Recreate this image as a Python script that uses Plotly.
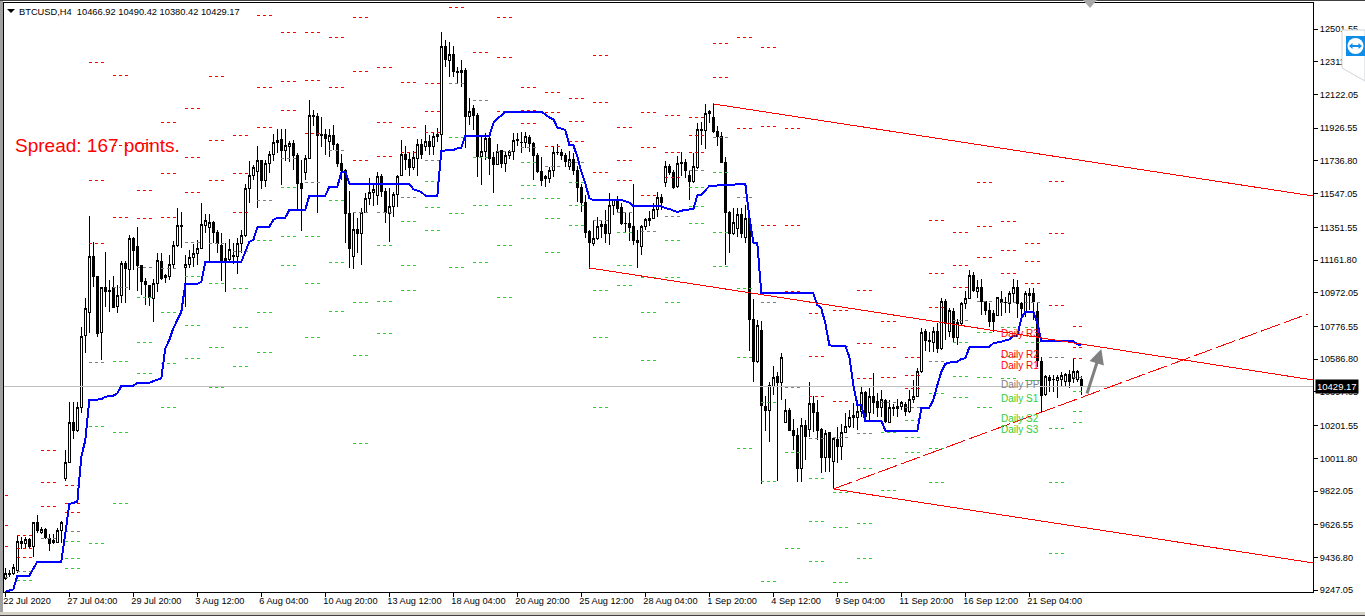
import plotly.graph_objects as go

FW, FH = 1365, 616
L, R, T, B = 4, 1313, 3, 592

opens = [9316,9339,9345,9360,9532,9517,9542,9499,9640,9584,
 9600,9546,9523,9526,9594,9896,9988,10220,10176,10307,
 10725,10858,11183,11067,10741,11003,10988,11003,10891,10955,
 11143,11108,11288,11239,11129,11040,11017,10940,11027,11154,
 11061,11069,11135,11245,11365,11118,11135,11177,11201,11230,
 11365,11351,11382,11322,11249,11172,11166,11189,11181,11259,
 11305,11578,11653,11674,11740,11624,11723,11775,11844,11862,
 11796,11821,11839,11769,11607,11670,11750,12001,11995,11891,
 11891,11848,11885,11833,11723,11680,11433,11181,11340,11317,
 11437,11518,11554,11537,11647,11560,11433,11471,11543,11651,
 11775,11746,11698,11752,11833,11823,11852,11819,11877,11891,
 12401,12320,12355,12256,12250,12264,11993,12042,12001,11761,
 11792,11868,11754,11717,11800,11723,11769,11792,11862,11846,
 11844,11875,11835,11771,11674,11647,11634,11684,11788,11788,
 11771,11707,11746,11684,11583,11498,11328,11257,11288,11355,
 11369,11315,11479,11510,11469,11375,11375,11359,11278,11239,
 11357,11404,11402,11456,11527,11611,11705,11670,11587,11730,
 11730,11655,11616,11699,11920,11912,12011,11989,11908,11879,
 11728,11438,11315,11342,11427,11293,11404,10818,10572,10756,
 10315,10292,10431,10485,10451,10219,10292,10176,10147,9952,
 10205,10180,10331,10280,10180,10016,10159,9992,10122,10079,
 10161,10195,10249,10248,10286,10396,10278,10373,10344,10306,
 10350,10222,10307,10300,10313,10325,10282,10352,10369,10514,
 10746,10698,10683,10746,10646,10920,10746,10862,10713,10791,
 10911,10938,11073,10982,11003,10920,10868,10853,10843,10934,
 10916,10911,10965,11000,10907,10857,10969,10969,10862,10572,
 10383,10480,10471,10466,10470,10460,10499,10476,10470,10466.92]

highs = [9374,9364,9399,9567,9557,9553,9548,9640,9683,9615,
 9606,9571,9571,9606,9650,10060,10336,10336,10340,10775,
 10940,11417,11268,11067,11003,11210,11046,11069,11017,11158,
 11156,11307,11297,11355,11133,11056,11017,11050,11201,11201,
 11081,11191,11274,11462,11442,11191,11220,11255,11278,11491,
 11429,11429,11390,11336,11317,11259,11282,11259,11288,11336,
 11603,11736,11713,11823,11742,11742,11796,11893,11920,11920,
 11922,11854,11858,11781,11742,11771,12090,12032,12013,11989,
 11920,11920,11943,11839,11775,11688,11562,11433,11404,11462,
 11549,11636,11607,11674,11661,11578,11582,11558,11655,11858,
 11823,11781,11794,11866,11866,11945,11887,11901,11926,12482,
 12438,12426,12403,12283,12322,12278,12100,12061,12013,11887,
 11897,11887,11790,11833,11800,11790,11800,11897,11901,11906,
 11902,11887,11848,11781,11761,11653,11699,11819,11835,11804,
 11781,11794,11781,11707,11603,11537,11336,11394,11409,11394,
 11452,11549,11514,11533,11495,11437,11442,11601,11336,11365,
 11404,11448,11491,11558,11545,11738,11719,11684,11765,11790,
 11746,11684,11781,11955,11964,12067,12032,12067,11939,11906,
 11757,11448,11462,11462,11462,11481,11413,10934,10814,10808,
 10373,10456,10547,10514,10621,10354,10302,10238,10186,10244,
 10234,10452,10373,10350,10186,10176,10166,10137,10195,10209,
 10276,10292,10331,10350,10431,10404,10418,10505,10393,10408,
 10354,10350,10327,10354,10346,10340,10408,10466,10534,10766,
 10760,10746,10775,10795,10940,10934,10882,10886,10818,10920,
 10984,11104,11094,11046,11050,10926,10911,10872,10945,10984,
 10945,10984,11050,11046,10920,10984,10998,10998,10920,10601,
 10495,10495,10495,10495,10514,10505,10524,10586,10524,10490.42]

lows = [9306,9325,9335,9349,9484,9484,9490,9441,9577,9571,
 9542,9476,9515,9519,9519,9882,9983,10124,10162,10273,
 10621,10737,11007,10717,10582,10887,10862,10882,10857,10911,
 10911,10988,11104,10984,10959,10901,10895,10804,10978,11046,
 11031,11046,11114,11239,11230,10891,11114,11123,11133,11224,
 11317,11152,11259,11201,11040,10978,11152,11137,11081,11201,
 11297,11495,11626,11464,11576,11587,11665,11738,11785,11599,
 11738,11732,11684,11456,11332,11626,11746,11939,11437,11819,
 11771,11761,11800,11703,11626,11263,11118,11112,11201,11135,
 11433,11479,11475,11481,11529,11375,11268,11413,11467,11649,
 11684,11649,11684,11651,11750,11796,11773,11773,11848,11781,
 12283,12225,12225,12187,12167,11812,11945,11916,11641,11599,
 11742,11655,11553,11713,11694,11674,11746,11742,11823,11781,
 11810,11790,11626,11665,11591,11587,11607,11645,11771,11742,
 11703,11684,11655,11498,11442,11288,11112,11245,11278,11288,
 11263,11249,11423,11433,11365,11326,11274,11249,11116,11193,
 11336,11359,11398,11409,11452,11583,11655,11574,11578,11649,
 11638,11510,11611,11692,11829,11808,11955,11897,11823,11723,
 11133,11201,11309,11297,11288,11259,10636,10456,10563,9863,
 10170,10108,10379,9882,10350,10215,10172,10060,9876,9876,
 10002,10137,10166,10118,9925,9934,9934,9832,9983,10002,
 10157,10186,10186,10176,10253,10253,10234,10269,10253,10253,
 10215,10219,10257,10253,10292,10257,10277,10331,10365,10509,
 10636,10630,10630,10621,10640,10698,10717,10679,10669,10785,
 10876,10934,10978,10940,10843,10843,10775,10746,10839,10837,
 10857,10853,10911,10824,10814,10833,10872,10814,10543,10282,
 10373,10398,10398,10364,10427,10423,10418,10447,10456,10380.42]

closes = [9341,9341,9380,9528,9517,9542,9499,9640,9596,9600,
 9550,9517,9536,9596,9637,9988,10220,10176,10307,10719,
 10882,11183,11067,10737,11003,10978,10980,10887,10957,11143,
 11110,11288,11216,11129,11036,11021,10945,11027,11158,11056,
 11075,11135,11245,11363,11359,11135,11177,11201,11230,11369,
 11390,11379,11322,11255,11162,11162,11224,11181,11259,11305,
 11578,11653,11699,11740,11624,11723,11775,11844,11856,11796,
 11827,11839,11767,11605,11576,11750,12001,11995,11885,11883,
 11866,11885,11831,11721,11680,11431,11228,11340,11315,11437,
 11520,11554,11572,11645,11558,11437,11471,11543,11649,11775,
 11744,11698,11757,11833,11773,11850,11819,11879,11891,12401,
 12326,12355,12254,12252,12264,11993,12024,11999,11761,11792,
 11868,11750,11717,11792,11721,11771,11790,11856,11854,11842,
 11879,11835,11767,11674,11622,11634,11684,11788,11786,11767,
 11736,11746,11680,11582,11493,11324,11261,11288,11359,11369,
 11315,11479,11514,11462,11371,11373,11351,11274,11263,11359,
 11398,11394,11456,11525,11496,11705,11667,11580,11723,11721,
 11680,11616,11705,11920,11912,12013,12024,11906,11877,11728,
 11437,11315,11380,11427,11315,11404,10818,10572,10785,10317,
 10292,10437,10481,10451,10597,10292,10176,10143,9952,10205,
 10137,10331,10277,10176,10016,10157,10017,10124,10079,10162,
 10199,10249,10263,10286,10394,10257,10373,10338,10307,10354,
 10224,10307,10300,10315,10336,10282,10354,10373,10514,10742,
 10698,10688,10746,10646,10920,10791,10872,10713,10798,10911,
 10940,11073,10988,11003,10920,10872,10808,10808,10942,10915,
 10914,10969,11000,10907,10882,10969,10959,10920,10582,10379,
 10489,10462,10469,10480,10495,10499,10460,10518,10518,10429.17]

blue_bar = [0,2,3,6,8,14,15,16,18,19,20,21,24,25,27,28,29,32,33,36,37,39,40,41,42,43,44,45,48,49,50,59,
 60,61,62,63,66,67,68,70,71,75,76,80,81,83,84,85,86,101,102,103,104,105,108,109,112,113,114,115,121,122,123,124,125,134,
 136,137,138,140,141,142,143,144,145,146,147,154,156,157,164,165,166,168,170,172,173,174,176,180,185,186,187,188,189,
 202,203,204,205,206,207,210,211,212,213,214,215,219,220,228,229,231,232,233,234,235,236,238,239,240,241,245,246,247,249,251,252,253,254,255,257,258,259,267,268,269]
blue_val = [9238,9252,9331,9331,9412,9412,9577,9747,9760,10021,10118,10350,10354,10369,10375,10389,10431,10433,10449,10449,10460,10476,10650,10698,10766,10814,10862,11023,11023,11036,11150,11152,
 11210,11268,11278,11351,11355,11394,11408,11408,11452,11454,11535,11535,11587,11587,11669,11674,11605,11605,11572,11564,11556,11535,11535,11796,11800,11810,11813,11881,11881,11955,11984,12000,12022,12022,
 11989,11978,11931,11916,11829,11829,11761,11674,11607,11520,11510,11510,11495,11475,11475,11462,11458,11440,11454,11456,11537,11541,11591,11597,11603,11413,11263,11259,10969,
 10969,10901,10882,10795,10669,10663,10663,10601,10437,10323,10321,10230,10230,10172,10172,10302,10306,10350,10437,10514,10559,10567,10572,10588,10592,10655,10657,10659,10679,10688,10702,10721,10721,10824,10862,10862,10795,10694,10692,10673,10669]

# Daily pivot levels, one entry per trading day (None = off the chart)
r3 = [9799,9567,10060,9857,12310,12235,11835,11962,12038,12229,11887,12583,12479,12484,None,12571,12281,12189,12183,None,None,12571,12165,12131,12096,12351,11928,12015,12003,11991,None,None,12392,11922,10849,10872,10988,10808,10599,11394,11324,11614,11388,11255,11620,10779]
r2 = [9625,9486,9874,9747,11626,11829,11568,11661,11754,11858,11661,12160,12200,12206,12450,12258,11957,11928,12026,None,None,12339,12032,12020,11968,12073,11742,11812,11783,11887,12415,12455,11939,11365,10605,10663,10675,10657,10495,11081,11133,11359,11220,11156,11313,10657]
r1 = [9503,9434,9735,9695,11255,11406,11400,11411,11551,11626,11440,11933,12032,11893,12160,11742,11765,11788,11904,12629,12363,12026,11951,11823,11852,11672,11626,11539,11643,11783,12223,11922,11365,10982,10373,10344,10472,10483,10414,10889,11005,11179,11081,11023,10901,10588]
pp = [9323,9358,9544,9590,10570,11000,11121,11110,11266,11255,11214,11510,11748,11614,11800,11435,11435,11527,11742,12183,12090,11794,11812,11707,11725,11394,11435,11330,11417,11684,11870,11527,10913,10425,10124,10135,10153,10333,10309,10576,10814,10924,10918,10918,10594,10478]
s1 = [None,9306,9410,9532,10199,10576,10947,10860,11069,11023,10994,11278,11580,11301,11510,10918,11249,11388,11620,11875,11754,11481,11730,11516,11609,10988,11324,11058,11278,11580,11672,10994,10333,10043,9892,9816,9950,10159,10234,10385,10681,10739,10773,10773,10182,10402]
s2 = [None,None,None,9428,9515,10164,10681,10559,10785,10652,10768,10855,11301,11023,11150,10611,10924,11133,11464,11429,11481,11249,11597,11400,11481,10715,11133,10855,11058,11475,11319,10599,9880,9486,9648,9608,9631,10008,10130,10066,10489,10483,10605,10681,9869,10286]
s3 = [None,None,None,9370,None,9747,10501,10309,10588,10420,10547,10628,11133,10710,10866,10095,10733,10988,11336,11121,11145,10942,11516,11203,11365,10309,11017,10582,10918,11371,11127,10066,9300,None,9416,9289,9428,9828,10048,9874,10362,10304,10472,10466,9457,10217]

tick_bars = [0,16,32,48,64,80,96,112,128,144,160,176,192,208,224,240,256]
tick_dates = ["22 Jul 2020","27 Jul 04:00","29 Jul 20:00","3 Aug 12:00","6 Aug 04:00","10 Aug 20:00","13 Aug 12:00",
              "18 Aug 04:00","20 Aug 20:00","25 Aug 12:00","28 Aug 04:00","1 Sep 20:00","4 Sep 12:00","9 Sep 04:00",
              "11 Sep 20:00","16 Sep 12:00","21 Sep 04:00"]
price_ticks = [12501.55,12311.80,12122.05,11926.55,11736.80,11547.05,11351.55,11161.80,10972.05,10776.55,
               10586.80,10397.05,10201.55,10011.80,9822.05,9626.55,9436.80,9247.05]

last_close = 10429.17
channel_upper = ([177, 327], [12067, 11533])
channel_mid = ([146, 327], [11116, 10466])
channel_lower = ([207, 327], [9834, 9405])
channel_rise = ([207, 325.6], [9834, 10849])
arrow_tail = (270.3, 10379)
arrow_tip = (274, 10646)
level_names = ["Daily R3","Daily R2","Daily R1","Daily PP","Daily S1","Daily S2","Daily S3"]

RED, GREEN, GRAY, BLUE = "#ff0000", "#32cd32", "#808080", "#0000ff"
FONT = "Liberation Sans"

def px(x):
    return (x - L) / (R - L)
def py(y):
    return 1 - (y - T) / (B - T)

def dashes(levels):
    xs, ys = [], []
    for k, v in enumerate(levels):
        if v is None:
            continue
        x0 = 6 * (k - 1) + 3
        x1 = min(x0 + 3.75, 269.2)
        xs += [x0, x1, None]
        ys += [v, v, None]
    return xs, ys

fig = go.Figure()
fig.add_trace(go.Scatter(x=[-1, 340], y=[last_close, last_close], mode="lines",
                         line=dict(color="#c0c0c0", width=1), hoverinfo="skip"))
for lv, col in [(r3, RED), (r2, RED), (r1, RED), (pp, GRAY), (s1, GREEN), (s2, GREEN), (s3, GREEN)]:
    xs, ys = dashes(lv)
    fig.add_trace(go.Scatter(x=xs, y=ys, mode="lines", line=dict(color=col, width=1, dash="3px,3px"), hoverinfo="skip"))
fig.add_trace(go.Candlestick(x=list(range(len(opens))), open=opens, high=highs, low=lows, close=closes,
                             increasing=dict(line=dict(color="black", width=1), fillcolor="white"),
                             decreasing=dict(line=dict(color="black", width=1), fillcolor="black"),
                             whiskerwidth=0, hoverinfo="skip"))
fig.add_trace(go.Scatter(x=blue_bar, y=blue_val, mode="lines", line=dict(color=BLUE, width=2), hoverinfo="skip"))
for (cx, cy), dash in [(channel_upper, None), (channel_mid, None), (channel_lower, None), (channel_rise, "20px,4px")]:
    fig.add_trace(go.Scatter(x=cx, y=cy, mode="lines", line=dict(color=RED, width=1, dash=dash), hoverinfo="skip"))

ann = [
    dict(xref="paper", yref="paper", x=px(13), y=py(146), text="Spread: 167 points.", showarrow=False,
         xanchor="left", yanchor="middle", font=dict(family=FONT, size=19, color=RED)),
    dict(xref="paper", yref="paper", x=px(17), y=py(12), text="BTCUSD,H4  10466.92 10490.42 10380.42 10429.17",
         showarrow=False, xanchor="left", yanchor="middle", font=dict(family=FONT, size=9.3, color="black")),
    dict(xref="paper", yref="y", x=px(1315), y=last_close, text="10429.17", showarrow=False, xanchor="left",
         yanchor="middle", bgcolor="black", borderpad=1, font=dict(family=FONT, size=9.5, color="white")),
    dict(x=arrow_tip[0], y=arrow_tip[1], ax=arrow_tail[0], ay=arrow_tail[1], xref="x", yref="y", axref="x", ayref="y",
         showarrow=True, arrowhead=2, arrowsize=1, arrowwidth=3, arrowcolor=GRAY, text=""),
]
for name, lv, col in zip(level_names, [r3, r2, r1, pp, s1, s2, s3], [RED, RED, RED, GRAY, GREEN, GREEN, GREEN]):
    ann.append(dict(x=248.5, y=lv[-1], text=name, showarrow=False, xanchor="left", yanchor="middle", yshift=-7,
                    font=dict(family=FONT, size=10, color=col)))

def rect(x0, y0, x1, y1, fill, line=None):
    return dict(type="rect", xref="paper", yref="paper", x0=px(x0), x1=px(x1), y0=py(y0), y1=py(y1),
                fillcolor=fill, line=dict(color=line or fill, width=0 if line is None else 1), layer="above")

def poly(pts, fill, line=None):
    d = "M " + " L ".join(f"{px(a):.5f},{py(b):.5f}" for a, b in pts) + " Z"
    return dict(type="path", xref="paper", yref="paper", path=d, fillcolor=fill,
                line=dict(color=line or fill, width=1 if line else 0), layer="above")

shapes = [
    rect(0, 0, 3, 616, "#a0a0a0"),
    rect(0, 0, 1365, 1, "#404040"),
    rect(0, 612, 1365, 615, "#d4d0c8"),
    rect(0, 615, 1365, 616, "#404040"),
    poly([(7, 9), (15, 9), (11, 13)], "black"),
    poly([(1083, 0), (1097, 0), (1090, 8)], "#a9a9a9"),
    poly([(1342, 30), (1365, 30), (1365, 81), (1342, 68)], "white", "#d0d4d8"),
    rect(1346, 36, 1365, 56, "#0e8ee9"),
    dict(type="circle", xref="paper", yref="paper", x0=px(1347.5), x1=px(1363.5), y0=py(38), y1=py(54),
         fillcolor="white", line=dict(width=0), layer="above"),
    poly([(1349, 46), (1352.5, 43), (1352.5, 45), (1358.5, 45), (1358.5, 43), (1362, 46),
          (1358.5, 49), (1358.5, 47), (1352.5, 47), (1352.5, 49)], "#0e8ee9"),
]

fig.update_layout(
    width=FW, height=FH, autosize=False, showlegend=False,
    margin=dict(l=L, r=FW - R, t=T, b=FH - B, pad=0),
    paper_bgcolor="white", plot_bgcolor="white",
    font=dict(family=FONT, size=10, color="black"),
    annotations=ann, shapes=shapes, boxgap=0.3,
    xaxis=dict(range=[(L - 5.33) / 4, (R - 5.33) / 4], tickvals=tick_bars, ticktext=tick_dates, tickangle=0,
               showgrid=False, zeroline=False, rangeslider=dict(visible=False), showline=True, mirror=True,
               linecolor="black", linewidth=1, ticks="outside", ticklen=4, tickcolor="black",
               ticklabelposition="outside right", ticklabelshift=-3, tickfont=dict(family=FONT, size=9.2)),
    yaxis=dict(range=[12670 - 5.8 * B, 12670 - 5.8 * T], side="right", tickvals=price_ticks,
               ticktext=[f"{v:.2f}" for v in price_ticks], showgrid=False, zeroline=False, showline=True, mirror=True,
               linecolor="black", linewidth=1, ticks="outside", ticklen=4, tickcolor="black",
               tickfont=dict(family=FONT, size=9.2)),
)

crisp = ("var s=document.createElement('style');"
         "s.textContent='.scatterlayer path,.boxlayer path{shape-rendering:crispEdges}';"
         "document.head.appendChild(s);"
         "document.body.style.margin='0';document.body.style.overflow='hidden';")
fig.write_html("out.html", config=dict(displayModeBar=False), post_script=crisp)
